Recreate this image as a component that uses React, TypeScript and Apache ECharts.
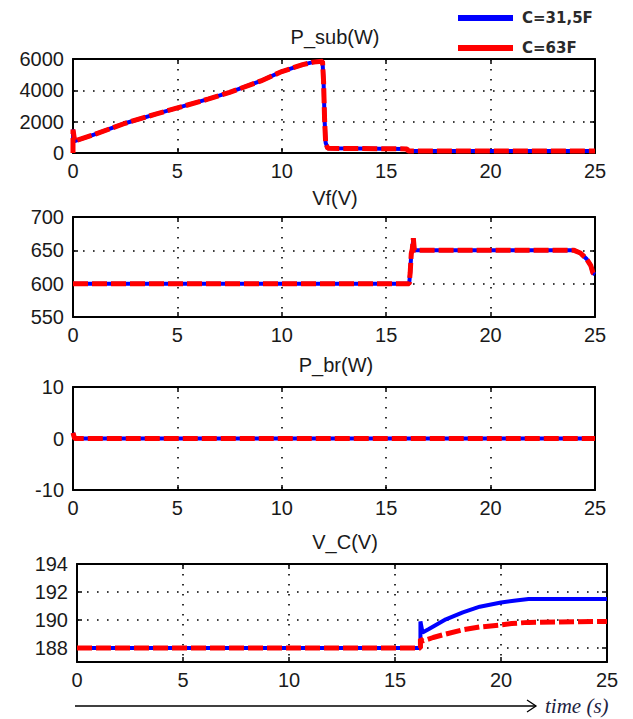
import React, { useEffect, useRef } from 'react';
import * as echarts from 'echarts';

// ---- data ----
const titles = ['P_sub(W)', 'Vf(V)', 'P_br(W)', 'V_C(V)'];
const legendNames = ['C=31,5F', 'C=63F'];
const timeLabel = 'time (s)';

// P_sub(W): [time, value] (both capacitances overlap)
const pSub: [number, number][] = [
  [0, 0], [0, 1500], [0.08, 760], [1, 1170], [2.5, 1900], [4, 2500], [5, 2880],
  [6.5, 3450], [7.5, 3870], [9, 4600], [10, 5200], [11, 5640], [11.5, 5800],
  [11.95, 5850], [12.0, 4600], [12.05, 2100], [12.1, 650], [12.2, 300],
  [16.0, 260], [16.05, 120], [25, 120],
];

// Vf(V)
const vf: [number, number][] = [
  [0, 600], [16.1, 600], [16.15, 617], [16.2, 645], [16.25, 652], [16.3, 668],
  [16.35, 650], [24.0, 650], [24.3, 646], [24.6, 637], [24.8, 627], [24.9, 616], [25, 614],
];

// P_br(W)
const pBr: [number, number][] = [[0, 1.1], [0.08, 0], [25, 0]];

// V_C(V)
const vcBlue: [number, number][] = [
  [0, 188], [16.2, 188], [16.2, 189.9], [16.3, 189.1], [16.6, 189.35], [17.4, 190.05],
  [18.2, 190.55], [19, 190.95], [20, 191.25], [20.7, 191.4], [21.3, 191.5], [25, 191.5],
];
const vcRed: [number, number][] = [
  [0, 188], [16.2, 188], [16.2, 188.65], [16.3, 188.5], [16.8, 188.75], [17.4, 189.0],
  [18.2, 189.3], [19, 189.5], [20, 189.65], [20.5, 189.75], [21.3, 189.83], [25, 189.9],
];

const xRange = { min: 0, max: 25, interval: 5 };
const yRanges = [
  { min: 0, max: 6000, interval: 2000 },
  { min: 550, max: 700, interval: 50 },
  { min: -10, max: 10, interval: 10 },
  { min: 187, max: 194 },
];
const vcTicks = [188, 190, 192, 194];
const vcGridValues = [188, 190, 192];

const blueData = [pSub, vf, pBr, vcBlue];
const redData = [pSub, vf, pBr, vcRed];

// ---- layout ----
const grids = [
  { left: 73, top: 59, width: 522, height: 94 },
  { left: 73, top: 217, width: 522, height: 100 },
  { left: 73, top: 387, width: 522, height: 103 },
  { left: 77, top: 564, width: 530, height: 98 },
];
const titlePos = [
  [335, 37], [335, 198], [336, 365], [345, 542],
];

const FONT = '"Liberation Sans", Arial, sans-serif';
const BLUE = '#0000ff';
const RED = '#ff0000';
const dotted = { color: '#000', width: 1.6, type: [1.6, 8.4] as number[] };
const axisLineStyle = { show: true, onZero: false, lineStyle: { color: '#000', width: 2 } };
const tickStyle = { show: true, inside: true, length: 5, lineStyle: { color: '#000', width: 1.5 } };
const plain = (v: number) => String(v);
const labelStyle = { color: '#1a1a1a', fontSize: 20, fontFamily: FONT, formatter: plain };

export default function App() {
  const ref = useRef<HTMLDivElement>(null);
  useEffect(() => {
    if (!ref.current) return;
    const chart = echarts.init(ref.current, undefined, { renderer: 'svg' });

    const xAxes: any[] = [];
    const yAxes: any[] = [];
    grids.forEach((_, i) => {
      xAxes.push({
        type: 'value', gridIndex: i, position: 'bottom', ...xRange,
        axisLine: axisLineStyle, axisTick: tickStyle,
        axisLabel: { ...labelStyle, margin: 8 },
        splitLine: { show: true, lineStyle: dotted },
      });
    });
    grids.forEach((_, i) => {
      xAxes.push({
        type: 'value', gridIndex: i, position: 'top', ...xRange,
        axisLine: axisLineStyle, axisTick: tickStyle,
        axisLabel: { show: false }, splitLine: { show: false },
      });
    });
    grids.forEach((_, i) => {
      const r = yRanges[i];
      const isVc = i === 3;
      yAxes.push({
        type: 'value', gridIndex: i, position: 'left', ...r,
        axisLine: axisLineStyle,
        axisTick: isVc ? { ...tickStyle, customValues: vcTicks } : tickStyle,
        axisLabel: isVc ? { ...labelStyle, margin: 9, customValues: vcTicks } : { ...labelStyle, margin: 9 },
        splitLine: { show: !isVc, lineStyle: dotted },
      });
    });
    grids.forEach((_, i) => {
      const r = yRanges[i];
      const isVc = i === 3;
      yAxes.push({
        type: 'value', gridIndex: i, position: 'right', ...r,
        axisLine: axisLineStyle,
        axisTick: isVc ? { ...tickStyle, customValues: vcTicks } : tickStyle,
        axisLabel: { show: false }, splitLine: { show: false },
      });
    });

    const series: any[] = [];
    grids.forEach((_, i) => {
      const blue: any = {
        name: legendNames[0], type: 'line', xAxisIndex: i, yAxisIndex: i,
        data: blueData[i], showSymbol: false, symbol: 'none', color: BLUE,
        lineStyle: { color: BLUE, width: 4 }, z: 2,
      };
      if (i === 3) {
        blue.markLine = {
          silent: true, symbol: ['none', 'none'], z: 1, label: { show: false },
          lineStyle: dotted, data: vcGridValues.map((v) => ({ yAxis: v })),
        };
      }
      series.push(blue);
      series.push({
        name: legendNames[1], type: 'line', xAxisIndex: i, yAxisIndex: i,
        data: redData[i], showSymbol: false, symbol: 'none', color: RED,
        lineStyle: { color: RED, width: 5, type: [15, 4] }, z: 3,
      });
    });

    const graphic: any[] = titles.map((t, i) => ({
      type: 'text', x: titlePos[i][0], y: titlePos[i][1],
      style: { text: t, fill: '#1a1a1a', font: `20px ${FONT}`, textAlign: 'center', textVerticalAlign: 'middle' },
    }));
    graphic.push(
      { type: 'line', shape: { x1: 75, y1: 706, x2: 536, y2: 706 }, style: { stroke: '#000', lineWidth: 1.3 } },
      { type: 'polyline', shape: { points: [[527, 700], [536, 706], [527, 712]] }, style: { stroke: '#000', lineWidth: 1.3, fill: null } },
      {
        type: 'text', x: 545, y: 706,
        style: { text: timeLabel, fill: '#1c2340', font: `italic 21px "Liberation Serif", "DejaVu Serif", serif`, textVerticalAlign: 'middle' },
      },
    );

    chart.setOption({
      animation: false,
      backgroundColor: '#ffffff',
      textStyle: { fontFamily: FONT },
      grid: grids.map((g) => ({ ...g, containLabel: false })),
      xAxis: xAxes,
      yAxis: yAxes,
      legend: {
        data: [
          { name: legendNames[0], icon: 'rect', itemStyle: { color: BLUE } },
          { name: legendNames[1], icon: 'rect', itemStyle: { color: RED } },
        ],
        orient: 'vertical', left: 453, top: 5, itemWidth: 55, itemHeight: 6, itemGap: 14,
        selectedMode: false,
        textStyle: { color: '#2a2a2a', fontWeight: 'bold', fontSize: 15, lineHeight: 16, fontFamily: '"DejaVu Sans", Verdana, sans-serif', padding: [0, 0, 0, 4] },
      },
      series,
      graphic,
    });
    return () => chart.dispose();
  }, []);
  return <div ref={ref} style={{ position: 'absolute', left: 0, top: 0, width: 633, height: 719 }} />;
}
